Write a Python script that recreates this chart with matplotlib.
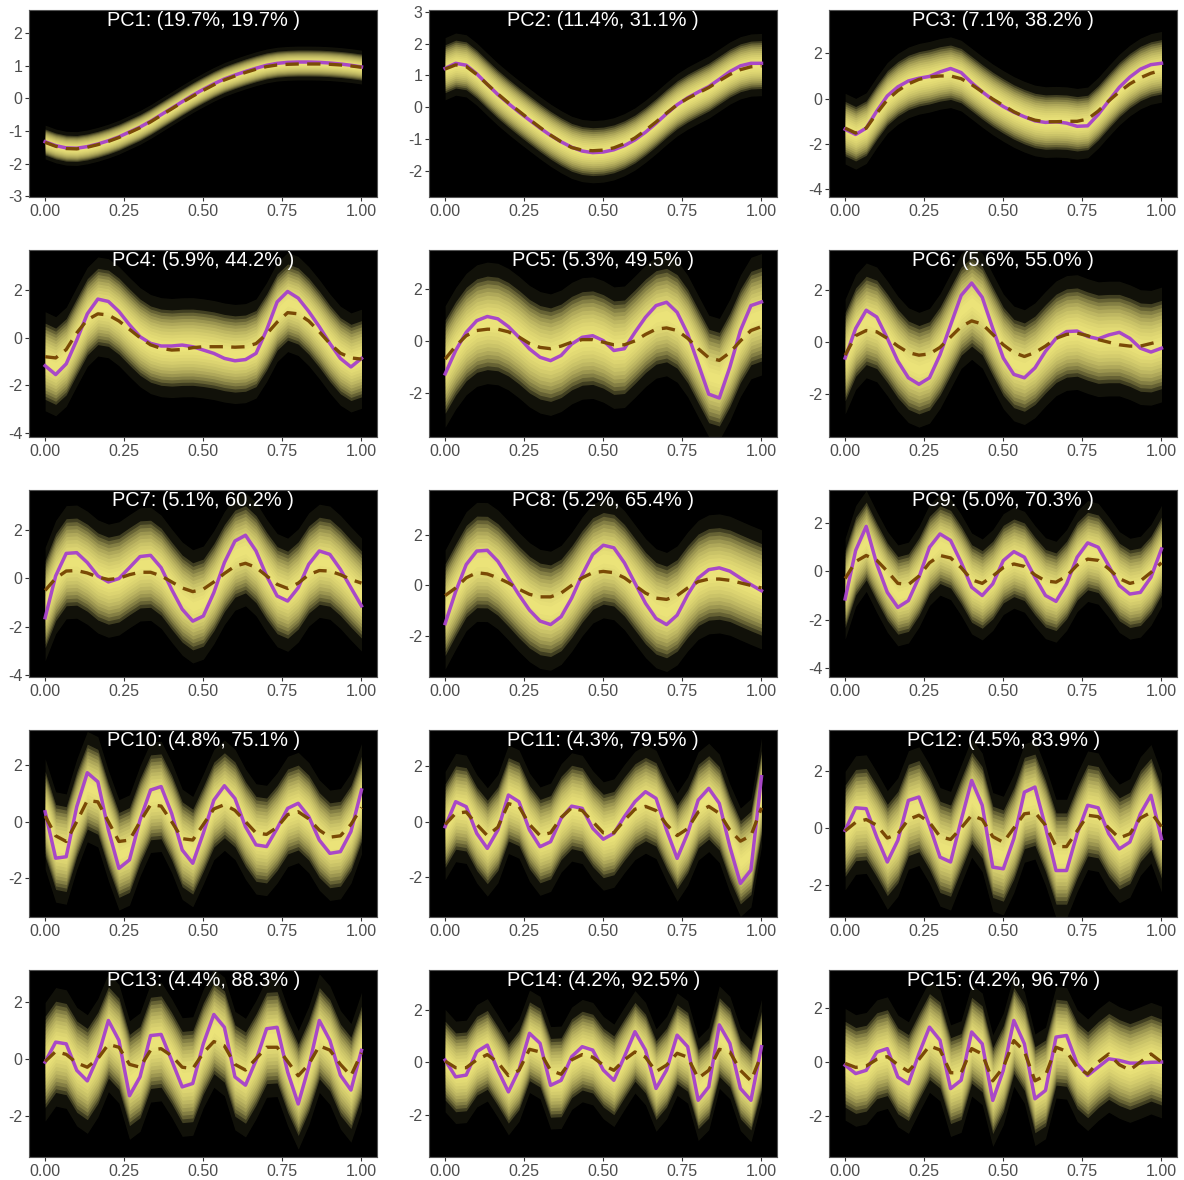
import numpy as np
import matplotlib
matplotlib.use("Agg")
import matplotlib.pyplot as plt

plt.rcParams['font.family'] = ['Liberation Sans', 'DejaVu Sans']

# evaluation grid of the eigenfunctions
t = np.linspace(0, 1, 31)

var_pct = [19.7, 11.4, 7.1, 5.9, 5.3, 5.6, 5.1, 5.2, 5.0, 4.8, 4.3, 4.5, 4.4, 4.2, 4.2]
cum_pct = [19.7, 31.1, 38.2, 44.2, 49.5, 55.0, 60.2, 65.4, 70.3, 75.1, 79.5, 83.9, 88.3, 92.5, 96.7]

# estimated eigenfunctions (purple) and bootstrap means (dashed)
pc1_est = [-1.33, -1.45, -1.52, -1.53, -1.48, -1.40, -1.30, -1.18, -1.03, -0.88, -0.70, -0.50, -0.30, -0.10, 0.10, 0.28,
           0.45, 0.60, 0.72, 0.83, 0.93, 1.02, 1.08, 1.11, 1.12, 1.12, 1.11, 1.09, 1.06, 1.02, 0.97]
pc1_mean = [-1.35, -1.47, -1.54, -1.55, -1.50, -1.42, -1.32, -1.20, -1.05, -0.90, -0.72, -0.52, -0.32, -0.12, 0.07, 0.25,
            0.42, 0.57, 0.69, 0.80, 0.90, 0.98, 1.03, 1.05, 1.06, 1.06, 1.06, 1.05, 1.03, 1.00, 0.96]
pc2_est = [1.22, 1.38, 1.32, 1.05, 0.72, 0.40, 0.12, -0.15, -0.40, -0.65, -0.88, -1.08, -1.25, -1.37, -1.42, -1.40,
           -1.33, -1.20, -1.02, -0.78, -0.50, -0.20, 0.08, 0.30, 0.48, 0.65, 0.88, 1.12, 1.30, 1.38, 1.38]
pc2_mean = [1.20, 1.33, 1.28, 1.03, 0.72, 0.42, 0.14, -0.12, -0.38, -0.63, -0.87, -1.08, -1.26, -1.34, -1.36, -1.34,
            -1.27, -1.14, -0.96, -0.72, -0.46, -0.18, 0.08, 0.28, 0.45, 0.62, 0.83, 1.03, 1.18, 1.27, 1.30]
pc3_est = [-1.35, -1.58, -1.30, -0.55, 0.12, 0.52, 0.78, 0.90, 0.98, 1.18, 1.33, 1.15, 0.70, 0.30, -0.05, -0.35,
           -0.60, -0.80, -0.98, -1.05, -1.02, -1.08, -1.22, -1.20, -0.70, -0.10, 0.50, 0.95, 1.30, 1.50, 1.56]
pc3_mean = [-1.30, -1.52, -1.30, -0.65, -0.05, 0.35, 0.65, 0.85, 0.95, 1.00, 1.00, 0.88, 0.62, 0.30, -0.02, -0.30,
            -0.58, -0.80, -0.95, -1.02, -1.02, -1.00, -1.00, -0.90, -0.55, -0.10, 0.30, 0.65, 0.92, 1.12, 1.25]
pc4_est = [-1.18, -1.55, -1.10, -0.10, 1.00, 1.62, 1.52, 1.10, 0.54, 0.04, -0.24, -0.35, -0.35, -0.31, -0.38, -0.52,
           -0.66, -0.87, -0.97, -0.92, -0.66, 0.32, 1.50, 1.94, 1.66, 1.10, 0.46, -0.24, -0.87, -1.23, -0.87]
pc4_mean = [-0.80, -0.85, -0.50, 0.20, 0.75, 1.00, 0.95, 0.70, 0.35, 0.00, -0.30, -0.45, -0.52, -0.50, -0.42, -0.38,
            -0.38, -0.38, -0.40, -0.38, -0.25, 0.15, 0.65, 1.05, 1.00, 0.70, 0.25, -0.25, -0.65, -0.85, -0.90]
pc5_est = [-1.27, -0.37, 0.33, 0.78, 0.94, 0.85, 0.55, 0.14, -0.31, -0.63, -0.76, -0.56, -0.12, 0.14, 0.20, 0.01,
           -0.37, -0.30, 0.33, 0.91, 1.36, 1.49, 1.10, 0.27, -0.88, -2.05, -2.20, -1.01, 0.40, 1.36, 1.50]
pc5_mean = [-0.70, -0.20, 0.20, 0.40, 0.45, 0.45, 0.35, 0.15, -0.10, -0.25, -0.30, -0.20, -0.05, 0.05, 0.05, -0.05,
            -0.15, -0.15, 0.00, 0.25, 0.45, 0.50, 0.40, 0.10, -0.30, -0.65, -0.75, -0.45, 0.00, 0.40, 0.55]
pc6_est = [-0.61, 0.53, 1.23, 0.97, 0.15, -0.73, -1.37, -1.62, -1.37, -0.48, 0.66, 1.80, 2.28, 1.73, 0.53, -0.61,
           -1.24, -1.37, -0.99, -0.35, 0.15, 0.41, 0.43, 0.22, 0.13, 0.28, 0.38, 0.15, -0.23, -0.38, -0.23]
pc6_mean = [-0.50, 0.25, 0.45, 0.40, 0.15, -0.15, -0.40, -0.50, -0.45, -0.20, 0.20, 0.60, 0.82, 0.70, 0.30, -0.10,
            -0.40, -0.55, -0.40, -0.15, 0.15, 0.30, 0.35, 0.25, 0.10, 0.00, -0.10, -0.15, -0.15, -0.05, 0.05]
pc7_est = [-1.63, 0.10, 1.03, 1.06, 0.65, 0.10, -0.15, -0.01, 0.44, 0.90, 0.95, 0.44, -0.46, -1.28, -1.77, -1.56,
           -0.59, 0.65, 1.54, 1.78, 1.13, 0.10, -0.73, -0.94, -0.39, 0.58, 1.13, 0.99, 0.37, -0.39, -1.14]
pc7_mean = [-0.50, 0.00, 0.30, 0.32, 0.22, 0.05, -0.05, 0.00, 0.15, 0.25, 0.25, 0.10, -0.15, -0.40, -0.55, -0.45,
            -0.15, 0.20, 0.50, 0.62, 0.45, 0.10, -0.25, -0.42, -0.20, 0.15, 0.32, 0.30, 0.15, -0.05, -0.20]
pc8_est = [-1.50, -0.24, 0.82, 1.35, 1.38, 0.95, 0.29, -0.37, -0.97, -1.40, -1.54, -1.23, -0.50, 0.42, 1.22, 1.58,
           1.48, 0.89, 0.09, -0.70, -1.30, -1.54, -1.17, -0.37, 0.29, 0.62, 0.69, 0.56, 0.29, 0.03, -0.21]
pc8_mean = [-0.40, -0.10, 0.30, 0.50, 0.45, 0.30, 0.10, -0.15, -0.35, -0.45, -0.45, -0.30, 0.00, 0.30, 0.50, 0.55,
            0.50, 0.30, 0.00, -0.30, -0.50, -0.55, -0.40, -0.10, 0.15, 0.25, 0.25, 0.20, 0.10, 0.00, -0.10]
pc9_est = [-1.14, 0.86, 1.85, 0.30, -0.87, -1.49, -1.21, -0.25, 0.99, 1.54, 1.27, 0.37, -0.66, -1.00, -0.52, 0.44,
           0.81, 0.58, -0.25, -1.00, -1.24, -0.52, 0.58, 1.17, 0.99, 0.23, -0.59, -0.94, -0.87, -0.25, 0.92]
pc9_mean = [-0.30, 0.40, 0.65, 0.45, 0.00, -0.50, -0.55, -0.20, 0.35, 0.65, 0.55, 0.15, -0.35, -0.50, -0.20, 0.15,
            0.30, 0.20, -0.15, -0.40, -0.45, -0.20, 0.25, 0.50, 0.45, 0.10, -0.30, -0.50, -0.40, -0.05, 0.35]
pc10_est = [0.35, -1.29, -1.24, 0.53, 1.73, 1.41, -0.29, -1.65, -1.35, 0.06, 1.12, 1.24, 0.29, -1.00, -1.47, -0.41,
            0.76, 1.27, 0.82, -0.18, -0.82, -0.88, -0.24, 0.47, 0.65, 0.18, -0.65, -1.12, -1.06, -0.35, 1.12]
pc10_mean = [0.20, -0.50, -0.70, 0.00, 0.75, 0.70, 0.00, -0.70, -0.65, 0.00, 0.60, 0.55, 0.00, -0.60, -0.65, -0.10,
             0.45, 0.60, 0.40, 0.00, -0.40, -0.45, -0.20, 0.25, 0.35, 0.10, -0.30, -0.55, -0.50, -0.10, 0.50]
pc11_est = [-0.18, 0.72, 0.54, -0.42, -0.96, -0.30, 0.96, 0.72, -0.30, -0.90, -0.72, 0.12, 0.56, 0.48, -0.24, -0.63,
            -0.42, 0.18, 0.72, 1.08, 0.84, -0.30, -1.32, -0.42, 0.78, 1.20, 0.66, -0.90, -2.22, -1.74, 1.62]
pc11_mean = [-0.10, 0.30, 0.35, -0.10, -0.50, -0.20, 0.65, 0.55, -0.10, -0.50, -0.40, 0.15, 0.50, 0.40, 0.00, -0.40,
             -0.40, 0.05, 0.45, 0.55, 0.40, -0.10, -0.50, -0.25, 0.35, 0.55, 0.30, -0.30, -0.70, -0.50, 0.50]
pc12_est = [-0.08, 0.71, 0.68, -0.32, -1.19, -0.43, 0.97, 1.09, 0.09, -1.02, -1.19, 0.27, 1.67, 0.80, -1.37, -1.43,
            -0.37, 1.26, 1.44, 0.04, -1.49, -1.49, -0.20, 0.80, 0.71, -0.20, -0.73, -0.49, 0.50, 1.15, -0.37]
pc12_mean = [-0.10, 0.20, 0.30, 0.10, -0.35, -0.20, 0.30, 0.45, 0.20, -0.30, -0.40, 0.00, 0.45, 0.30, -0.30, -0.50,
             0.00, 0.50, 0.55, 0.10, -0.65, -0.65, -0.10, 0.45, 0.40, 0.00, -0.35, -0.20, 0.35, 0.55, 0.05]
pc13_est = [-0.12, 0.58, 0.52, -0.41, -0.78, 0.06, 1.34, 0.64, -1.30, -0.64, 0.81, 0.85, -0.06, -0.99, -0.87, 0.52,
            1.55, 1.10, -0.64, -0.93, -0.06, 1.05, 1.10, -0.47, -1.59, -0.29, 1.34, 0.64, -0.58, -1.10, 0.29]
pc13_mean = [-0.10, 0.25, 0.15, -0.15, -0.30, 0.00, 0.50, 0.40, -0.20, -0.30, 0.30, 0.35, 0.10, -0.30, -0.35, 0.20,
             0.60, 0.45, -0.20, -0.40, 0.00, 0.40, 0.40, -0.10, -0.60, -0.20, 0.45, 0.30, -0.20, -0.60, 0.20]
pc14_est = [0.09, -0.55, -0.48, 0.41, 0.66, -0.29, -1.12, -0.29, 1.11, 0.73, -0.87, -0.68, 0.22, 0.60, 0.47, -0.29,
            -0.68, 0.22, 1.17, 0.47, -0.99, -0.29, 1.04, 0.60, -1.44, -0.93, 1.43, 0.73, -0.99, -1.44, 0.60]
pc14_mean = [0.05, -0.20, -0.20, 0.10, 0.30, 0.00, -0.50, -0.30, 0.50, 0.40, -0.30, -0.45, 0.10, 0.30, 0.20, -0.10,
             -0.30, 0.10, 0.40, 0.20, -0.35, -0.10, 0.35, 0.20, -0.60, -0.30, 0.50, 0.40, -0.30, -0.70, 0.30]
pc15_est = [-0.12, -0.43, -0.31, 0.37, 0.50, -0.56, -0.81, 0.31, 1.30, 0.81, -0.99, -0.68, 1.12, 0.68, -1.43, -0.31,
            1.55, 0.68, -1.37, -1.06, 0.93, 0.99, -0.06, -0.50, -0.19, 0.12, 0.06, -0.04, -0.04, -0.01, 0.00]
pc15_mean = [-0.05, -0.20, -0.15, 0.10, 0.20, -0.10, -0.35, 0.10, 0.60, 0.45, -0.40, -0.40, 0.50, 0.30, -0.70, -0.20,
             0.80, 0.40, -0.70, -0.50, 0.55, 0.40, -0.20, -0.45, 0.00, 0.30, -0.10, -0.30, 0.00, 0.30, 0.00]

# half-width of the bootstrap cloud
spread_outer = [0.40, 0.75, 1.20, 1.60, 1.80, 1.70, 1.80, 1.80, 1.60, 1.50, 1.50, 1.60, 1.60, 1.50, 1.60]

est_curves = [pc1_est, pc2_est, pc3_est, pc4_est, pc5_est, pc6_est, pc7_est, pc8_est,
              pc9_est, pc10_est, pc11_est, pc12_est, pc13_est, pc14_est, pc15_est]
mean_curves = [pc1_mean, pc2_mean, pc3_mean, pc4_mean, pc5_mean, pc6_mean, pc7_mean, pc8_mean,
               pc9_mean, pc10_mean, pc11_mean, pc12_mean, pc13_mean, pc14_mean, pc15_mean]

# axis ranges and y tick spacing of each panel
ylims = [(-3.03, 2.72), (-2.81, 3.05), (-4.34, 3.91), (-4.17, 3.68), (-3.70, 3.50),
         (-3.65, 3.55), (-4.08, 3.65), (-3.60, 3.75), (-4.36, 3.35), (-3.37, 3.24),
         (-3.43, 3.30), (-3.12, 3.44), (-3.45, 3.11), (-3.60, 3.52), (-3.54, 3.43)]
ystep = [1, 1, 2, 2, 2, 2, 2, 2, 2, 2, 2, 2, 2, 2, 2]

W, H = 1184, 1180
fig = plt.figure(figsize=(W / 100, H / 100), dpi=100)
fig.patch.set_facecolor('white')

col_left = [29.3, 429.3, 829.3]
row_top = [10, 250, 490, 730, 970]
pw, ph = 348, 187
yellow = '#FFF585'
layers = np.linspace(1.0, 0.1, 12)

for i in range(15):
    r, c = divmod(i, 3)
    ax = fig.add_axes([col_left[c] / W, 1 - (row_top[r] + ph) / H, pw / W, ph / H])
    ax.set_facecolor('black')

    est = np.array(est_curves[i])
    m = np.array(mean_curves[i])
    mid = (est + m) / 2
    so = spread_outer[i]

    # bootstrap cloud: stacked translucent bands give a soft density falloff
    ax.fill_between(t, mid - 1.3 * so, mid + 1.3 * so, color=yellow, alpha=0.07, lw=0)
    for f in layers:
        ax.fill_between(t, mid - f * so, mid + f * so, color=yellow, alpha=0.2, lw=0)

    ax.plot(t, est, color='#A640CC', lw=2.5, alpha=0.95, zorder=3)
    ln, = ax.plot(t, m, color='#7A4A06', lw=2.4, zorder=4)
    ln.set_dashes((4, 2.5))

    ax.set_xlim(-0.05, 1.05)
    ax.set_ylim(*ylims[i])
    ax.set_xticks([0, 0.25, 0.5, 0.75, 1.0])
    ax.set_xticklabels(['0.00', '0.25', '0.50', '0.75', '1.00'])
    lo, hi = ylims[i]
    st = ystep[i]
    yt = np.arange(np.ceil(lo / st) * st, hi + 1e-9, st)
    ax.set_yticks(yt)
    ax.set_yticklabels([str(int(v)) for v in yt])
    ax.tick_params(colors='#333333', labelcolor='#4D4D4D', labelsize=11.5, length=3, width=0.8, pad=2)
    for s in ax.spines.values():
        s.set_color('#555555')
        s.set_linewidth(0.8)

    ax.text(0.5, 0.995, f"PC{i + 1}: ({var_pct[i]:.1f}%, {cum_pct[i]:.1f}% )",
            transform=ax.transAxes, ha='center', va='top', color='white', fontsize=14.4, zorder=5)

fig.savefig('out.png', dpi=100, facecolor='white')
